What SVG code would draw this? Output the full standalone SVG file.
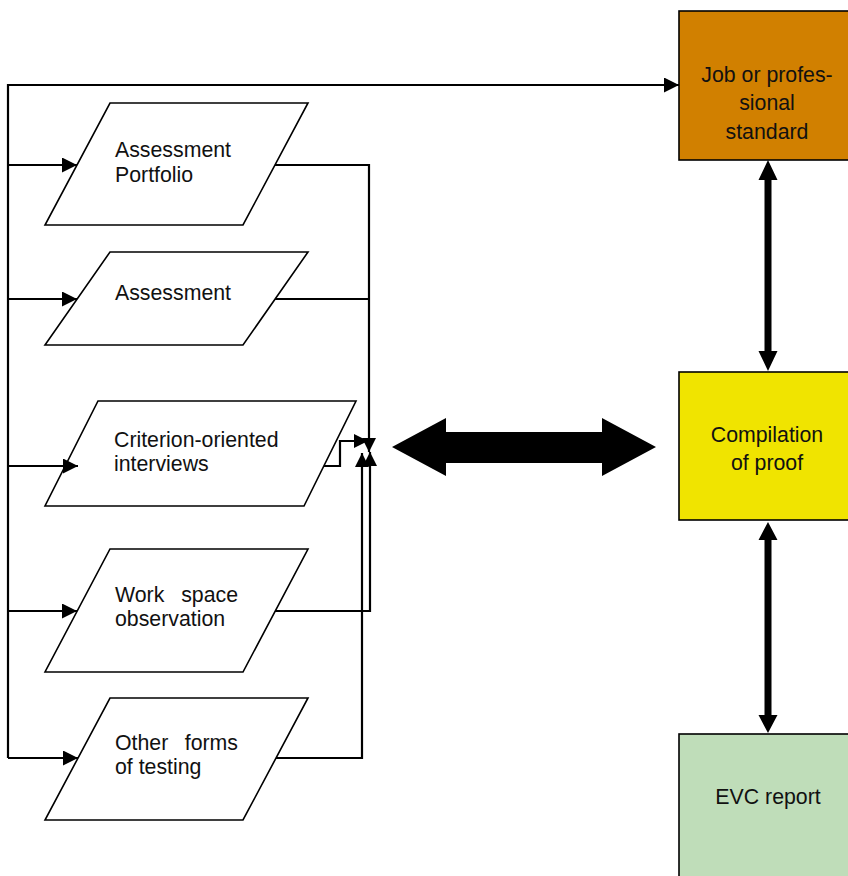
<svg xmlns="http://www.w3.org/2000/svg" width="848" height="876" viewBox="0 0 848 876">
<style>
.para{fill:#fff;stroke:#000;stroke-width:1.6}
.box{stroke:#000;stroke-width:1.6}
.t{font-family:"Liberation Sans",Arial,sans-serif;font-size:21.3px;fill:#111}
.c{text-anchor:middle}
.e{text-anchor:end}
.ln{fill:none;stroke:#000;stroke-width:2.2}
.blk{fill:#000}
</style>
<defs>
<marker id="ah" markerUnits="userSpaceOnUse" markerWidth="15" markerHeight="15" refX="15" refY="7.5" orient="auto">
<path d="M0,0 L15,7.5 L0,15 z" fill="#000"/>
</marker>
<marker id="ahs" markerUnits="userSpaceOnUse" markerWidth="14" markerHeight="14" refX="14" refY="7" orient="auto">
<path d="M0,0 L14,7 L0,14 z" fill="#000"/>
</marker>
</defs>
<rect width="848" height="876" fill="#fff"/>

<g id="portfolio">
<polygon class="para" points="110,103 308,103 243,225 45,225"/>
<text class="t" x="115" y="157">Assessment</text>
<text class="t" x="115" y="182">Portfolio</text>
</g>
<g id="assessment">
<polygon class="para" points="110,252 308,252 243,345 45,345"/>
<text class="t" x="115" y="300">Assessment</text>
</g>
<g id="interviews">
<polygon class="para" points="98,401 356,401 304,506 45,506"/>
<text class="t" x="114" y="447">Criterion-oriented</text>
<text class="t" x="114" y="471">interviews</text>
</g>
<g id="workspace">
<polygon class="para" points="110,549 308,549 243,672 45,672"/>
<text class="t" x="115" y="602">Work</text>
<text class="t e" x="238" y="602">space</text>
<text class="t" x="115" y="626">observation</text>
</g>
<g id="otherforms">
<polygon class="para" points="110,698 308,698 243,820 45,820"/>
<text class="t" x="115" y="750">Other</text>
<text class="t e" x="238" y="750">forms</text>
<text class="t" x="115" y="774">of testing</text>
</g>
<g id="standard">
<rect class="box" x="679" y="11" width="200" height="149" fill="#D18000"/>
<text class="t c" x="767" y="82">Job or profes-</text>
<text class="t c" x="767" y="110">sional</text>
<text class="t c" x="767" y="139">standard</text>
</g>
<g id="compilation">
<rect class="box" x="679" y="372" width="200" height="148" fill="#F0E400"/>
<text class="t c" x="767" y="442">Compilation</text>
<text class="t c" x="767" y="470">of proof</text>
</g>
<g id="evc">
<rect class="box" x="679" y="734" width="200" height="160" fill="#BFDDB9"/>
<text class="t c" x="768" y="804">EVC report</text>
</g>

<g id="connectors">
<path class="ln" d="M8,758 V85 H679" marker-end="url(#ah)"/>
<path class="ln" d="M8,165 H77" marker-end="url(#ah)"/>
<path class="ln" d="M8,299 H77" marker-end="url(#ah)"/>
<path class="ln" d="M8,466 H78" marker-end="url(#ah)"/>
<path class="ln" d="M8,611 H77" marker-end="url(#ah)"/>
<path class="ln" d="M8,758 H78" marker-end="url(#ah)"/>
<path class="ln" d="M275,165 H369 V452" marker-end="url(#ahs)"/>
<path class="ln" d="M275,299 H369"/>
<path class="ln" d="M324,466 H340 V441 H368" marker-end="url(#ahs)"/>
<path class="ln" d="M275,611 H370 V452" marker-end="url(#ahs)"/>
<path class="ln" d="M276,758 H362 V453" marker-end="url(#ahs)"/>
<polygon class="blk" points="392,447 446,418 446,432 602,432 602,418 656,447 602,476 602,463 446,463 446,476"/>
<polygon class="blk" points="768,160 777.5,180 771.5,180 771.5,351 777.5,351 768,371 758.5,351 764.5,351 764.5,180 758.5,180"/>
<polygon class="blk" points="768,522 777.5,540 771.5,540 771.5,715 777.5,715 768,733 758.5,715 764.5,715 764.5,540 758.5,540"/>
</g>
</svg>
